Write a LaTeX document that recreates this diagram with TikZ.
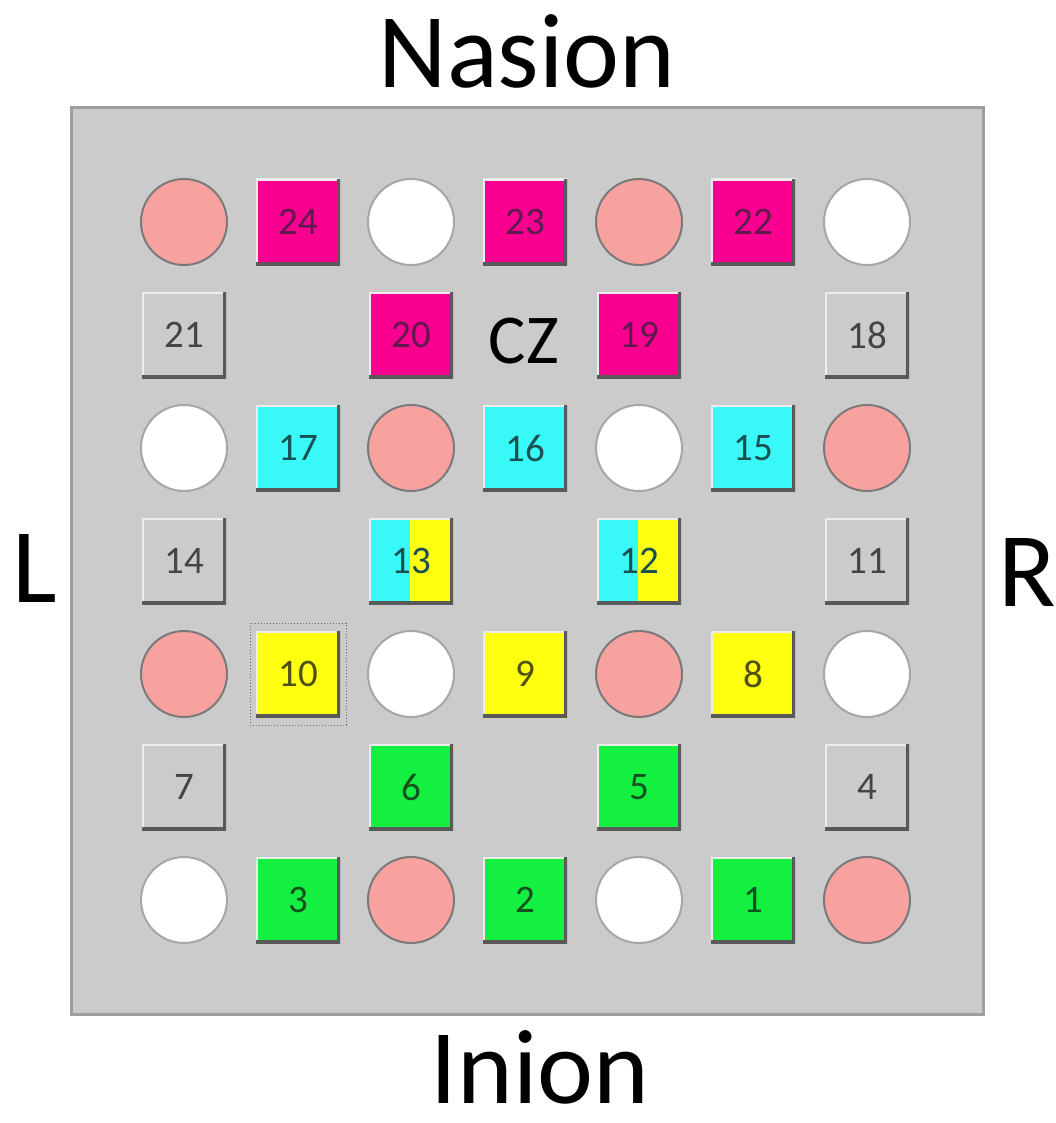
\documentclass[tikz,border=0pt]{standalone}
\usepackage{fontspec}
\setmainfont{Carlito}
\definecolor{boardgray}{HTML}{CBCBCB}
\definecolor{boardline}{HTML}{9E9E9E}
\definecolor{elpink}{HTML}{F7A29F}
\definecolor{elline}{HTML}{7A7A7A}
\definecolor{magenta2}{HTML}{FA0090}
\definecolor{cyan2}{HTML}{38F8F8}
\definecolor{yellow2}{HTML}{FFFF10}
\definecolor{green2}{HTML}{14F040}
\definecolor{magtext}{HTML}{5E1A4C}
\definecolor{cyantext}{HTML}{1A5052}
\definecolor{yeltext}{HTML}{505014}
\definecolor{greentext}{HTML}{16501E}
\definecolor{graytext}{HTML}{444444}
\tikzset{
  board/.style={draw=boardline, fill=boardgray, line width=3pt},
  pinkel/.style={circle, minimum size=86pt, inner sep=0pt, fill=elpink, draw=elline, line width=2pt},
  whiteel/.style={circle, minimum size=86pt, inner sep=0pt, fill=white, draw=gray!70, line width=2pt},
  btn/.style={rectangle, minimum width=84pt, minimum height=86pt, inner sep=0pt,
    font=\fontsize{39}{40}\selectfont,
    path picture={
      \draw[white!85!gray, line width=4pt] (path picture bounding box.south west) -- (path picture bounding box.north west) -- (path picture bounding box.north east);
      \draw[black!65, line width=6pt] (path picture bounding box.north east) -- (path picture bounding box.south east) -- (path picture bounding box.south west);
    }},
  graybtn/.style={btn, fill=boardgray, text=graytext},
  magbtn/.style={btn, fill=magenta2, text=magtext},
  cyanbtn/.style={btn, fill=cyan2, text=cyantext},
  yelbtn/.style={btn, fill=yellow2, text=yeltext},
  greenbtn/.style={btn, fill=green2, text=greentext},
  splitbtn/.style={rectangle, minimum width=84pt, minimum height=86pt, inner sep=0pt,
    font=\fontsize{39}{40}\selectfont, fill=yellow2, text=cyantext,
    path picture={
      \fill[cyan2] (path picture bounding box.south west) rectangle ([xshift=-1pt]path picture bounding box.north);
      \draw[white!85!gray, line width=4pt] (path picture bounding box.south west) -- (path picture bounding box.north west) -- (path picture bounding box.north east);
      \draw[black!65, line width=6pt] (path picture bounding box.north east) -- (path picture bounding box.south east) -- (path picture bounding box.south west);
    }},
  dotframe/.style={rectangle, draw=gray!80!black, dotted, line width=1pt, minimum width=96pt, minimum height=102pt, inner sep=0pt},
  bigtext/.style={font=\fontsize{106}{108}\selectfont, anchor=base, inner sep=0pt},
  cztext/.style={font=\fontsize{70}{72}\selectfont, anchor=base, inner sep=0pt}
}
\begin{document}
\begin{tikzpicture}[x=1pt, y=-1pt]
\useasboundingbox (0,0) rectangle (1055,1123);
\fill[white] (0,0) rectangle (1055,1123);
\node[board, minimum width=912pt, minimum height=906pt, inner sep=0pt] (brd) at (527.5,561) {};
% labels
\node[bigtext] (nasion) at (527,88) {Nasion};
\node[bigtext] (inion) at (540,1103) {Inion};
\node[bigtext] (lab) at (35,602) {L};
\node[bigtext] (rab) at (1027,606) {R};
% row 1
\node[pinkel] (e11) at (184,222) {};
\node[magbtn] (s24) at (298,222) {24};
\node[whiteel] (e13) at (411,222) {};
\node[magbtn] (s23) at (525,222) {23};
\node[pinkel] (e15) at (639,222) {};
\node[magbtn] (s22) at (753,222) {22};
\node[whiteel] (e17) at (867,222) {};
% row 2
\node[graybtn] (s21) at (184,335) {21};
\node[magbtn] (s20) at (411,335) {20};
\node[cztext] (cz) at (524,363) {CZ};
\node[magbtn] (s19) at (639,335) {19};
\node[graybtn] (s18) at (867,335) {18};
% row 3
\node[whiteel] (e31) at (184,448) {};
\node[cyanbtn] (s17) at (298,448) {17};
\node[pinkel] (e33) at (411,448) {};
\node[cyanbtn] (s16) at (525,448) {16};
\node[whiteel] (e35) at (639,448) {};
\node[cyanbtn] (s15) at (753,448) {15};
\node[pinkel] (e37) at (867,448) {};
% row 4
\node[graybtn] (s14) at (184,561) {14};
\node[splitbtn] (s13) at (411,561) {13};
\node[splitbtn] (s12) at (639,561) {12};
\node[graybtn] (s11) at (867,561) {11};
% row 5
\node[pinkel] (e51) at (184,674) {};
\node[dotframe] (f10) at (298,674) {};
\node[yelbtn] (s10) at (298,674) {10};
\node[whiteel] (e53) at (411,674) {};
\node[yelbtn] (s9) at (525,674) {9};
\node[pinkel] (e55) at (639,674) {};
\node[yelbtn] (s8) at (753,674) {8};
\node[whiteel] (e57) at (867,674) {};
% row 6
\node[graybtn] (s7) at (184,787) {7};
\node[greenbtn] (s6) at (411,787) {6};
\node[greenbtn] (s5) at (639,787) {5};
\node[graybtn] (s4) at (867,787) {4};
% row 7
\node[whiteel] (e71) at (184,900) {};
\node[greenbtn] (s3) at (298,900) {3};
\node[pinkel] (e73) at (411,900) {};
\node[greenbtn] (s2) at (525,900) {2};
\node[whiteel] (e75) at (639,900) {};
\node[greenbtn] (s1) at (753,900) {1};
\node[pinkel] (e77) at (867,900) {};
\end{tikzpicture}
\end{document}
